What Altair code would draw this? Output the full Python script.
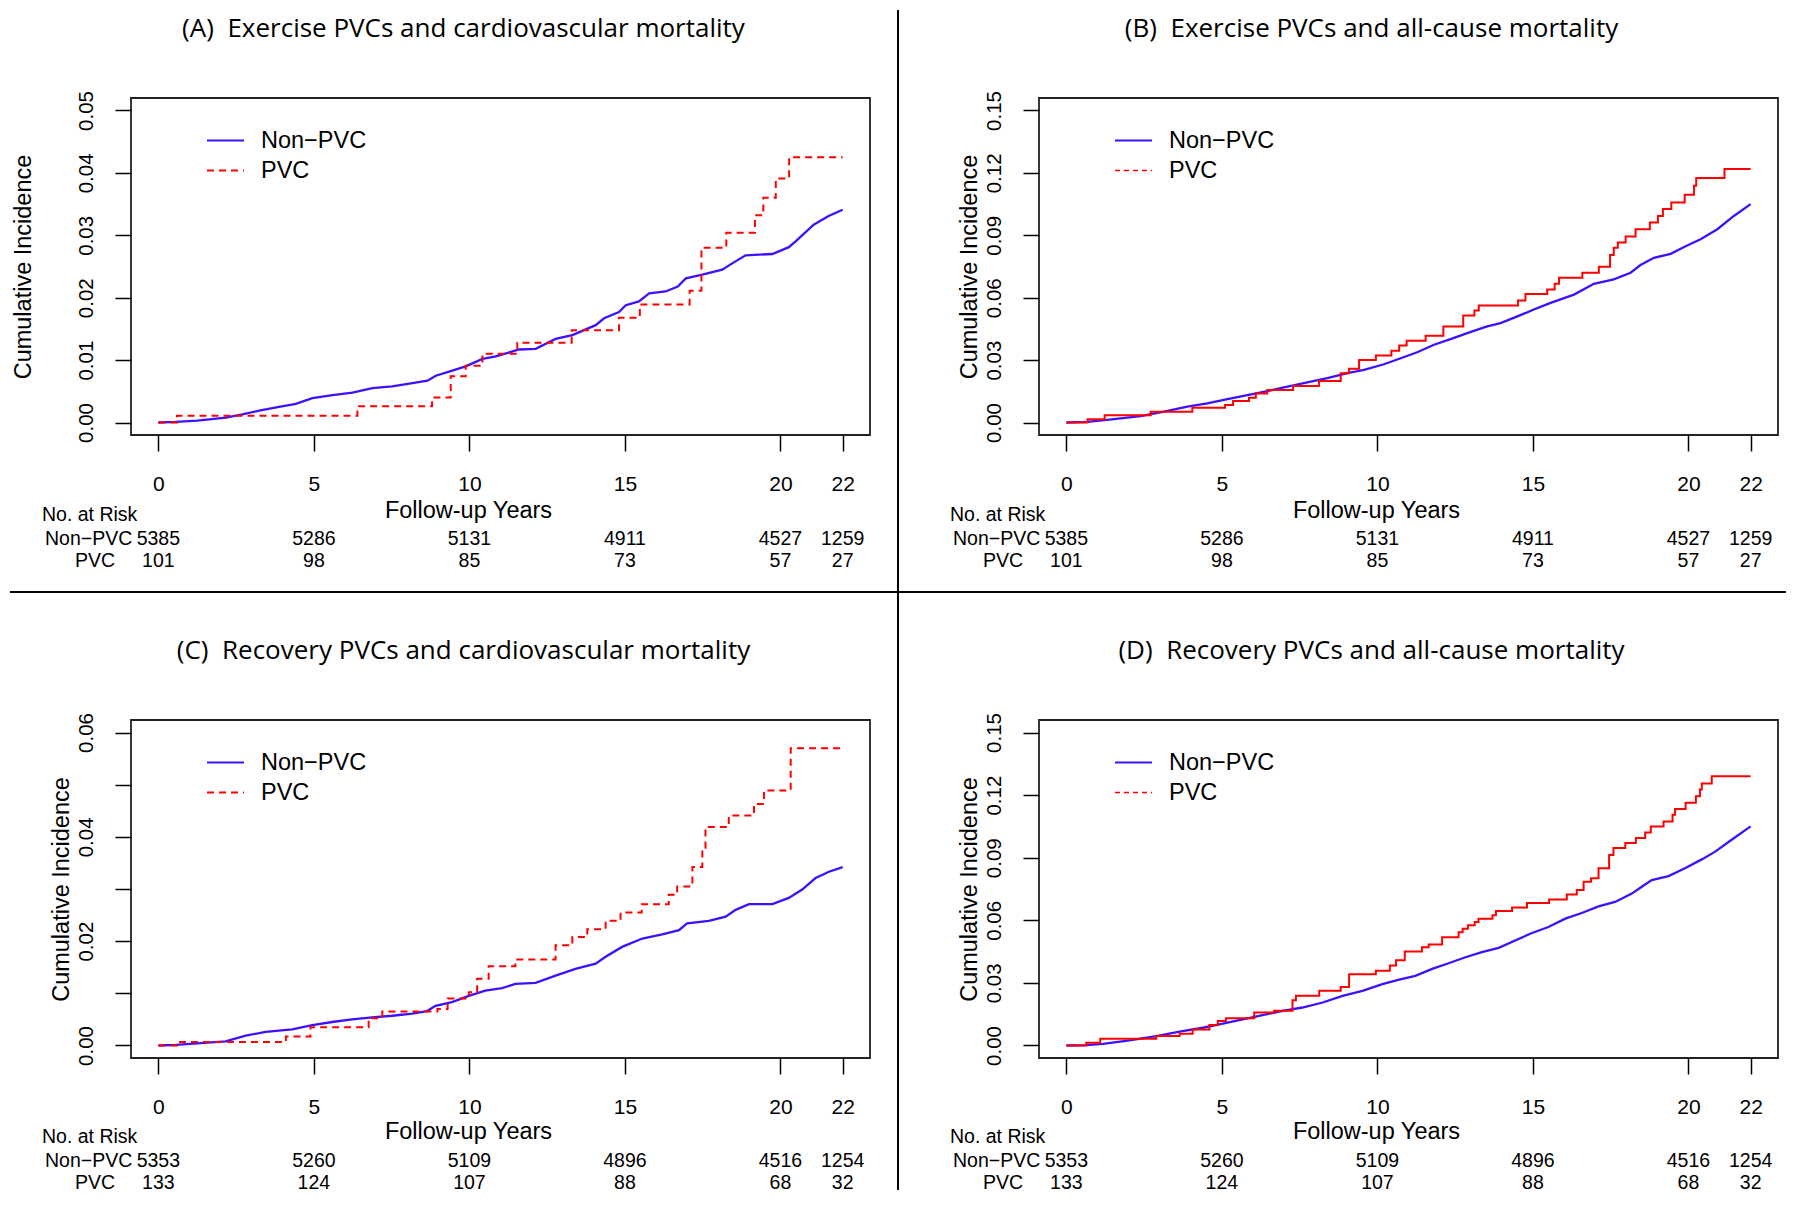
import altair as alt
import pandas as pd

# ---------------- data ----------------
# (A) Exercise PVCs and cardiovascular mortality
a_non_t = [0, 0.56, 1.25, 2.17, 2.7, 3.24, 3.88, 4.42, 4.95, 5.6, 6.24, 6.88, 7.52, 8.17, 8.65, 8.92, 9.45, 9.88,
           10.42, 10.85, 11.6, 12.13, 12.77, 13.31, 14.06, 14.33, 14.81, 15.03, 15.45, 15.78, 16.31, 16.7, 16.96,
           17.49, 18.13, 18.45, 18.88, 19.74, 20.27, 20.48, 21.07, 21.55, 22.0]
a_non_v = [0, 0.0001, 0.0003, 0.0008, 0.0013, 0.0019, 0.0025, 0.0030, 0.0039, 0.0044, 0.0048, 0.0055, 0.0058,
           0.0063, 0.0067, 0.0075, 0.0083, 0.0090, 0.0102, 0.0106, 0.0117, 0.0118, 0.0134, 0.0140, 0.0156, 0.0167,
           0.0177, 0.0188, 0.0194, 0.0207, 0.0210, 0.0218, 0.0231, 0.0237, 0.0245, 0.0255, 0.0268, 0.0270, 0.0281,
           0.0290, 0.0317, 0.0331, 0.0341]
a_pvc_t = [0, 0.6, 6.4, 8.8, 9.4, 9.88, 10.42, 11.54, 13.29, 14.81, 15.48, 17.08, 17.46, 18.26, 19.18, 19.45,
           19.85, 20.28, 22.0]
a_pvc_v = [0, 0.0011, 0.0026, 0.0040, 0.0074, 0.0091, 0.0110, 0.0128, 0.0148, 0.0168, 0.0189, 0.0211, 0.0280,
           0.0304, 0.0332, 0.0360, 0.0391, 0.0425, 0.0425]

# (B) Exercise PVCs and all-cause mortality
b_non_t = [0, 0.68, 1.53, 2.39, 3.14, 3.89, 4.53, 5.18, 5.82, 6.46, 7.11, 7.75, 8.39, 9.04, 9.57, 10.21, 10.75,
           11.28, 11.82, 12.35, 12.89, 13.53, 13.96, 14.5, 15.03, 15.57, 16.32, 16.96, 17.6, 18.14, 18.46, 18.89,
           19.43, 19.86, 20.39, 20.93, 21.46, 22.0]
b_non_v = [0, 0.0003, 0.0016, 0.0031, 0.0052, 0.0076, 0.0092, 0.0113, 0.0132, 0.0151, 0.0172, 0.0193, 0.0213,
           0.0237, 0.0253, 0.0280, 0.0309, 0.0338, 0.0374, 0.0401, 0.0430, 0.0462, 0.0478, 0.0510, 0.0543, 0.0575,
           0.0615, 0.0667, 0.0688, 0.0720, 0.0757, 0.0792, 0.0811, 0.0844, 0.0881, 0.0929, 0.0993, 0.1050]
b_pvc_t = [0, 0.68, 1.23, 2.71, 4.05, 5.1, 5.36, 5.87, 6.09, 6.46, 7.29, 8.12, 8.82, 9.09, 9.41, 9.95, 10.45,
           10.7, 10.94, 11.55, 12.12, 12.76, 13.12, 13.26, 14.52, 14.76, 15.46, 15.7, 15.84, 16.59, 17.12, 17.48,
           17.6, 17.73, 17.98, 18.3, 18.76, 19.02, 19.18, 19.45, 19.88, 20.18, 20.25, 21.16, 22.0]
b_pvc_v = [0, 0.0016, 0.0035, 0.0052, 0.0071, 0.0084, 0.0103, 0.0119, 0.0140, 0.0156, 0.0175, 0.0199, 0.0237,
           0.0258, 0.0300, 0.0322, 0.0345, 0.0370, 0.0393, 0.0417, 0.0462, 0.0514, 0.0538, 0.0562, 0.0586, 0.0618,
           0.0639, 0.0667, 0.0696, 0.0720, 0.0749, 0.0805, 0.0840, 0.0865, 0.0894, 0.0929, 0.0961, 0.0993, 0.1026,
           0.1058, 0.1095, 0.1138, 0.1175, 0.1219, 0.1219]

# (C) Recovery PVCs and cardiovascular mortality
c_non_t = [0, 0.56, 1.25, 2.16, 2.81, 3.45, 4.3, 4.95, 5.59, 6.23, 6.87, 7.52, 8.16, 8.64, 8.91, 9.44, 9.98,
           10.51, 11.05, 11.48, 12.13, 12.77, 13.41, 14.06, 14.38, 14.91, 15.56, 16.2, 16.74, 17.0, 17.7, 18.24,
           18.56, 18.99, 19.74, 20.27, 20.7, 21.13, 21.56, 22.0]
c_non_v = [0, 0.0001, 0.0004, 0.0008, 0.0019, 0.0026, 0.0031, 0.0039, 0.0045, 0.0050, 0.0054, 0.0057, 0.0061,
           0.0066, 0.0076, 0.0083, 0.0095, 0.0105, 0.0110, 0.0118, 0.0120, 0.0134, 0.0147, 0.0157, 0.0170, 0.0189,
           0.0205, 0.0213, 0.0221, 0.0234, 0.0239, 0.0247, 0.0260, 0.0271, 0.0271, 0.0283, 0.0299, 0.0321, 0.0333,
           0.0342]
c_pvc_t = [0, 0.61, 4.1, 4.89, 6.76, 7.2, 8.97, 9.3, 9.98, 10.25, 10.62, 11.48, 12.77, 13.31, 13.79, 14.38,
           14.86, 15.54, 16.41, 16.68, 17.17, 17.49, 17.59, 18.34, 19.15, 19.47, 20.33, 22.0]
c_pvc_v = [0, 0.00065, 0.0017, 0.0035, 0.0052, 0.0065, 0.0070, 0.0090, 0.0102, 0.0128, 0.0152, 0.0165, 0.0192,
           0.0208, 0.0223, 0.0239, 0.0255, 0.0271, 0.0289, 0.0305, 0.0342, 0.0379, 0.0419, 0.0441, 0.0463, 0.0489,
           0.0570, 0.0570]

# (D) Recovery PVCs and all-cause mortality
d_non_t = [0, 0.64, 1.18, 2.03, 2.89, 3.64, 4.39, 5.03, 5.67, 6.31, 6.95, 7.59, 8.24, 8.88, 9.52, 10.16, 10.7,
           11.22, 11.76, 12.29, 12.83, 13.36, 13.9, 14.43, 14.97, 15.5, 16.04, 16.57, 17.11, 17.64, 18.18, 18.5,
           18.82, 19.36, 19.89, 20.43, 20.86, 21.39, 22.0]
d_non_v = [0, 0.0002, 0.0008, 0.0024, 0.0045, 0.0066, 0.0085, 0.0105, 0.0125, 0.0146, 0.0166, 0.0182, 0.0206,
           0.0238, 0.0262, 0.0294, 0.0316, 0.0334, 0.0367, 0.0394, 0.0423, 0.0447, 0.0468, 0.0503, 0.0539, 0.0568,
           0.0608, 0.0635, 0.0667, 0.0688, 0.0728, 0.0761, 0.0793, 0.0812, 0.0849, 0.0892, 0.0929, 0.0986, 0.1050]
d_pvc_t = [0, 0.64, 1.09, 2.89, 3.64, 4.06, 4.6, 4.87, 5.13, 6.04, 6.68, 7.27, 7.38, 8.13, 8.82, 9.09, 9.95,
           10.4, 10.6, 10.88, 11.43, 11.65, 12.08, 12.61, 12.74, 12.91, 13.13, 13.25, 13.7, 13.81, 14.33, 14.81,
           15.52, 16.09, 16.41, 16.63, 16.87, 17.11, 17.45, 17.59, 17.97, 18.31, 18.61, 18.79, 19.2, 19.49, 19.57,
           19.91, 20.24, 20.37, 20.43, 20.75, 22.0]
d_pvc_v = [0, 0.0013, 0.0032, 0.0045, 0.0056, 0.0077, 0.0098, 0.0117, 0.0130, 0.0158, 0.0167, 0.0217, 0.0238,
           0.0262, 0.0280, 0.0342, 0.0358, 0.0383, 0.0408, 0.0450, 0.0471, 0.0484, 0.0519, 0.0543, 0.0560, 0.0576,
           0.0592, 0.0608, 0.0624, 0.0645, 0.0661, 0.0683, 0.0700, 0.0724, 0.0745, 0.0785, 0.0801, 0.0849, 0.0913,
           0.0946, 0.0970, 0.0994, 0.1021, 0.1050, 0.1074, 0.1106, 0.1134, 0.1163, 0.1195, 0.1227, 0.1256, 0.1291,
           0.1291]

# number at risk
risk_times = [0, 5, 10, 15, 20, 22]
ex_risk_non = [5385, 5286, 5131, 4911, 4527, 1259]
ex_risk_pvc = [101, 98, 85, 73, 57, 27]
rec_risk_non = [5353, 5260, 5109, 4896, 4516, 1254]
rec_risk_pvc = [133, 124, 107, 88, 68, 32]

# ticks and labels
x_ticks = [0, 5, 10, 15, 20, 22]
y_ticks_a = [0, 0.01, 0.02, 0.03, 0.04, 0.05]
y_ticks_c = [0, 0.01, 0.02, 0.03, 0.04, 0.05, 0.06]
y_ticks_all = [0, 0.03, 0.06, 0.09, 0.12, 0.15]
titles = ["(A)\u00a0\u00a0Exercise PVCs and cardiovascular mortality",
          "(B)\u00a0\u00a0Exercise PVCs and all-cause mortality",
          "(C)\u00a0\u00a0Recovery PVCs and cardiovascular mortality",
          "(D)\u00a0\u00a0Recovery PVCs and all-cause mortality"]
group_labels = ["Non\u2212PVC", "PVC"]

# ---------------- styling ----------------
FONT = "Liberation Sans"
TITLE_FONT = "Open Sans"
BLUE = "#3f10ff"
RED = "#ff0000"
PW = 739
ONE = pd.DataFrame({"k": [0]})


def panel(title, non_t, non_v, pvc_t, pvc_v, risk_non, risk_pvc, y_domain, y_ticks, height,
          pvc_dashed, legend_dash, legend_w, ytitle_x, xtitle_y, even_only=False, dividers=False):
    xs = alt.Scale(domain=[-0.88, 22.88], nice=False, zero=False)
    ys = alt.Scale(domain=y_domain, nice=False, zero=False)
    x_axis = alt.Axis(values=x_ticks, grid=False, domain=False, tickSize=16, tickWidth=1.5,
                      tickColor="black", labelFont=FONT, labelFontSize=21, labelColor="black",
                      labelPadding=33, labelBaseline="middle", labelAlign="center", labelOverlap=False,
                      labelFlush=False, format="d", titleFont=FONT, titleFontSize=23.5,
                      titleFontWeight="normal", titleColor="black", titleX=337, titleY=xtitle_y,
                      titleAlign="center", titleBaseline="middle")
    ykw = dict(values=y_ticks, grid=False, domain=False, tickSize=16, tickWidth=1.5, tickColor="black",
               labelFont=FONT, labelFontSize=20.5, labelColor="black", labelAngle=270,
               labelAlign="center", labelBaseline="middle", labelPadding=29, labelOverlap=False,
               labelFlush=False, format=".2f", titleFont=FONT, titleFontSize=23.5,
               titleFontWeight="normal", titleColor="black", titleAngle=270, titleX=ytitle_x,
               titleY=height / 2, titleAlign="center", titleBaseline="middle")
    if even_only:
        ykw["labelExpr"] = "round(datum.value * 100) % 2 == 0 ? datum.label : ''"
    y_axis = alt.Axis(**ykw)
    X = alt.X("t:Q", scale=xs, axis=x_axis, title="Follow-up Years")
    Y = alt.Y("v:Q", scale=ys, axis=y_axis, title="Cumulative Incidence")

    non = alt.Chart(pd.DataFrame({"t": non_t, "v": non_v})).mark_line(
        color=BLUE, strokeWidth=2.3).encode(x=X, y=Y)
    pkw = dict(color=RED, strokeWidth=2, interpolate="step-after")
    if pvc_dashed:
        pkw["strokeDash"] = [7, 5]
    pvc = alt.Chart(pd.DataFrame({"t": pvc_t, "v": pvc_v})).mark_line(**pkw).encode(x=X, y=Y)

    txt = dict(font=FONT, fontSize=19.5, color="black", baseline="middle")
    df_rn = pd.DataFrame({"t": risk_times, "n": [str(n) for n in risk_non]})
    df_rp = pd.DataFrame({"t": risk_times, "n": [f"{n:>3}".replace(" ", "\u2007") for n in risk_pvc]})
    r_non = alt.Chart(df_rn).mark_text(align="center", **txt).encode(x=X, y=alt.value(441), text="n:N")
    r_pvc = alt.Chart(df_rp).mark_text(align="center", **txt).encode(x=X, y=alt.value(463), text="n:N")
    lab0 = alt.Chart(ONE).mark_text(text="No. at Risk", align="left", **txt).encode(
        x=alt.value(-89), y=alt.value(417))
    lab1 = alt.Chart(ONE).mark_text(text=group_labels[0], align="left", **txt).encode(
        x=alt.value(-86), y=alt.value(441))
    lab2 = alt.Chart(ONE).mark_text(text=group_labels[1], align="left", **txt).encode(
        x=alt.value(-56), y=alt.value(463))

    # legend (top-left, inside the box)
    leg_txt = dict(font=FONT, fontSize=23.5, color="black", baseline="middle", align="left")
    lg1 = alt.Chart(ONE).mark_rule(color=BLUE, strokeWidth=2).encode(
        x=alt.value(76), x2=alt.value(113), y=alt.value(42.5))
    lg2 = alt.Chart(ONE).mark_rule(color=RED, strokeWidth=legend_w, strokeDash=legend_dash).encode(
        x=alt.value(76), x2=alt.value(113), y=alt.value(72.5))
    lt1 = alt.Chart(ONE).mark_text(text=group_labels[0], **leg_txt).encode(x=alt.value(130), y=alt.value(42.5))
    lt2 = alt.Chart(ONE).mark_text(text=group_labels[1], **leg_txt).encode(x=alt.value(130), y=alt.value(72.5))

    ttl = alt.Chart(ONE).mark_text(text=title, font=TITLE_FONT, fontSize=26, color="black",
                                   align="center", baseline="middle").encode(
        x=alt.value(PW / 2 - 37), y=alt.value(-69))

    layers = [non, pvc, r_non, r_pvc, lab0, lab1, lab2, lg1, lg2, lt1, lt2, ttl]
    if dividers:
        vdiv = alt.Chart(ONE).mark_rule(color="black", strokeWidth=2).encode(
            x=alt.value(767), y=alt.value(-88), y2=alt.value(1092))
        hdiv = alt.Chart(ONE).mark_rule(color="black", strokeWidth=2).encode(
            x=alt.value(-121), x2=alt.value(1655), y=alt.value(494))
        layers += [vdiv, hdiv]
    return alt.layer(*layers).properties(width=PW, height=height)


A = panel(titles[0], a_non_t, a_non_v, a_pvc_t, a_pvc_v, ex_risk_non, ex_risk_pvc,
          [-0.002, 0.052], y_ticks_a, 337, True, [7, 5], 2, -108, 75, dividers=True)
B = panel(titles[1], b_non_t, b_non_v, b_pvc_t, b_pvc_v, ex_risk_non, ex_risk_pvc,
          [-0.006, 0.156], y_ticks_all, 337, False, [5, 4], 1.6, -70, 75)
C = panel(titles[2], c_non_t, c_non_v, c_pvc_t, c_pvc_v, rec_risk_non, rec_risk_pvc,
          [-0.0024, 0.0624], y_ticks_c, 338, True, [7, 5], 2, -70, 73, even_only=True)
D = panel(titles[3], d_non_t, d_non_v, d_pvc_t, d_pvc_v, rec_risk_non, rec_risk_pvc,
          [-0.006, 0.156], y_ticks_all, 338, False, [5, 4], 1.6, -70, 73)

chart = alt.concat(A, B, C, D, columns=2, spacing={"row": 285, "column": 169},
                   bounds="flush").properties(padding=0, background="white").configure_view(
    stroke="#222222", strokeWidth=1.8)

chart.save("out.html", embed_options={"renderer": "svg", "actions": False})
